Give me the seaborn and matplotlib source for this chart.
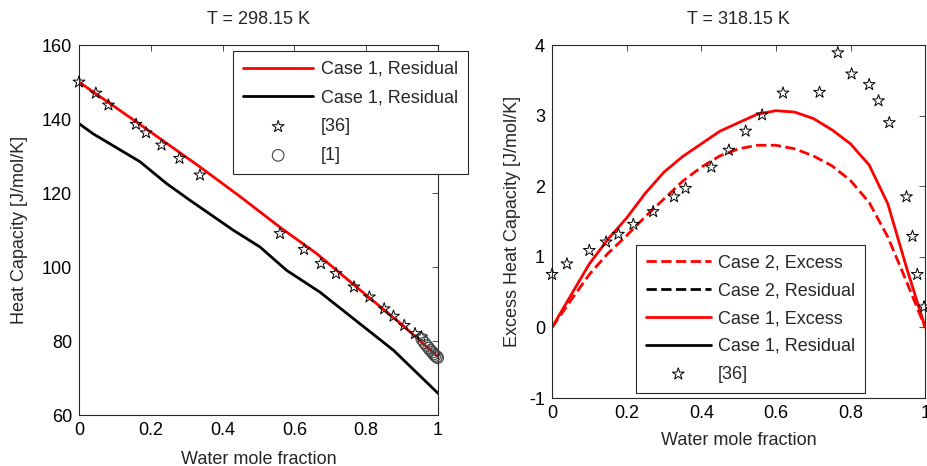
import numpy as np
import matplotlib
matplotlib.use("Agg")
import matplotlib.pyplot as plt
import seaborn as sns

# ---- left panel data (T = 298.15 K) ----
left_red_x = [0, 0.1, 0.2, 0.337, 0.45, 0.56, 0.662, 0.806, 0.9, 1.0]
left_red_y = [150, 143.3, 136.5, 127.1, 119, 110.8, 103.7, 92, 84.5, 75.8]

left_black_x = [0, 0.04, 0.17, 0.244, 0.309, 0.43, 0.504, 0.578, 0.671, 0.876, 1.0]
left_black_y = [138.8, 136, 128.5, 122.6, 118.1, 110, 105.5, 99.2, 93.3, 77.6, 66]

left_ref36_x = [0, 0.047, 0.082, 0.159, 0.187, 0.23, 0.28, 0.337, 0.56, 0.627,
                0.674, 0.716, 0.766, 0.809, 0.85, 0.876, 0.906, 0.936, 0.954]
left_ref36_y = [150, 147, 143.8, 138.6, 136.3, 133, 129.4, 124.9, 109.1, 104.8,
                101, 98.3, 94.7, 92, 88.8, 86.8, 84.3, 82.1, 81.2]

left_ref1_x = [0.955, 0.962, 0.968, 0.974, 0.979, 0.984, 0.988, 0.992, 0.996, 0.999]
left_ref1_y = [80.6, 79.6, 78.9, 78.2, 77.6, 77.1, 76.6, 76.2, 75.9, 75.6]

# ---- right panel data (T = 318.15 K) ----
right_x = [0, 0.05, 0.1, 0.15, 0.2, 0.25, 0.3, 0.35, 0.4, 0.45, 0.5,
           0.55, 0.6, 0.65, 0.7, 0.75, 0.8, 0.85, 0.9, 0.95, 1.0]
case1_excess = [0, 0.45, 0.9, 1.25, 1.55, 1.9, 2.2, 2.42, 2.6, 2.78, 2.9,
                3.02, 3.07, 3.05, 2.96, 2.8, 2.6, 2.3, 1.75, 0.85, 0]
case2_excess = [0, 0.38, 0.75, 1.05, 1.3, 1.57, 1.82, 2.07, 2.27, 2.43, 2.53,
                2.58, 2.58, 2.53, 2.43, 2.29, 2.08, 1.77, 1.28, 0.65, 0]
# residual curves lie outside the plotted range, legend only
case1_residual = []
case2_residual = []

right_ref36_x = [0, 0.04, 0.1, 0.145, 0.178, 0.218, 0.271, 0.327, 0.358, 0.427,
                 0.474, 0.519, 0.563, 0.619, 0.717, 0.766, 0.803, 0.85, 0.875,
                 0.904, 0.95, 0.966, 0.979, 0.997]
right_ref36_y = [0.75, 0.9, 1.09, 1.21, 1.32, 1.46, 1.64, 1.85, 1.97, 2.27,
                 2.51, 2.78, 3.01, 3.32, 3.33, 3.89, 3.59, 3.44, 3.21,
                 2.9, 1.85, 1.29, 0.75, 0.29]

sns.set_style("white")
plt.rcParams["font.family"] = ["Liberation Sans", "DejaVu Sans"]
plt.rcParams.update({
    "font.size": 13,
    "axes.unicode_minus": False,
    "xtick.direction": "in",
    "ytick.direction": "in",
    "xtick.top": True,
    "ytick.right": True,
    "xtick.major.size": 4,
    "ytick.major.size": 4,
    "xtick.major.width": 0.6,
    "ytick.major.width": 0.6,
    "xtick.color": "#333333",
    "ytick.color": "#333333",
    "xtick.labelcolor": "black",
    "ytick.labelcolor": "black",
    "xtick.major.pad": 5,
    "ytick.major.pad": 5,
    "axes.edgecolor": "#262626",
    "axes.linewidth": 0.8,
})

fig = plt.figure(figsize=(9.27, 4.66), dpi=100)
ax1 = fig.add_axes([0.0852, 0.1084, 0.3873, 0.795])
ax2 = fig.add_axes([0.5955, 0.1459, 0.4025, 0.7575])

star_kw = dict(marker="*", s=80, facecolors="none", edgecolors="black", linewidths=0.7)

######
sns.lineplot(x=left_red_x, y=left_red_y, ax=ax1, color="red", linewidth=2,
             sort=False, estimator=None, label="Case 1, Residual")
sns.lineplot(x=left_black_x, y=left_black_y, ax=ax1, color="black", linewidth=2,
             sort=False, estimator=None, label="Case 1, Residual")
sns.scatterplot(x=left_ref36_x, y=left_ref36_y, ax=ax1, label="[36]", zorder=3,
                clip_on=False, **star_kw)
sns.scatterplot(x=left_ref1_x, y=left_ref1_y, ax=ax1, label="[1]", marker="o", s=70,
                facecolors="none", edgecolors="#444444", linewidths=0.8, zorder=3,
                clip_on=False)

ax1.set_xlim(0, 1)
ax1.set_ylim(60, 160)
ax1.set_xticks(np.arange(0, 1.01, 0.2))
ax1.set_xticklabels(["0", "0.2", "0.4", "0.6", "0.8", "1"])
ax1.set_yticks(np.arange(60, 161, 20))
ax1.set_title("T = 298.15 K", fontsize=13, pad=15)
ax1.set_xlabel("Water mole fraction", labelpad=8)
ax1.set_ylabel("Heat Capacity [J/mol/K]", labelpad=10)
ax1.legend(loc="upper left", bbox_to_anchor=(0.429, 0.984), borderaxespad=0,
           frameon=True, fancybox=False, edgecolor="#262626", framealpha=1,
           handlelength=3.9, handletextpad=0.4, labelspacing=0.65,
           borderpad=0.55, fontsize=13).get_frame().set_linewidth(0.8)

#####
sns.lineplot(x=right_x, y=case2_excess, ax=ax2, color="red", linewidth=2,
             linestyle="--", sort=False, estimator=None, label="Case 2, Excess")
ax2.plot(case2_residual, case2_residual, color="black", linewidth=2, linestyle="--",
         label="Case 2, Residual")
sns.lineplot(x=right_x, y=case1_excess, ax=ax2, color="red", linewidth=2,
             sort=False, estimator=None, label="Case 1, Excess")
ax2.plot(case1_residual, case1_residual, color="black", linewidth=2,
         label="Case 1, Residual")
sns.scatterplot(x=right_ref36_x, y=right_ref36_y, ax=ax2, label="[36]", zorder=3,
                clip_on=False, **star_kw)

ax2.set_xlim(0, 1)
ax2.set_ylim(-1, 4)
ax2.set_xticks(np.arange(0, 1.01, 0.2))
ax2.set_xticklabels(["0", "0.2", "0.4", "0.6", "0.8", "1"])
ax2.set_yticks(np.arange(-1, 4.1, 1))
ax2.set_title("T = 318.15 K", fontsize=13, pad=15)
ax2.set_xlabel("Water mole fraction", labelpad=7)
ax2.set_ylabel("Excess Heat Capacity [J/mol/K]", labelpad=6)
ax2.legend(loc="lower left", bbox_to_anchor=(0.2246, 0.015), borderaxespad=0,
           frameon=True, fancybox=False, edgecolor="#262626", framealpha=1,
           handlelength=3.6, handletextpad=0.4, labelspacing=0.6,
           borderpad=0.55, fontsize=13).get_frame().set_linewidth(0.8)

fig.savefig("out.png", dpi=100)
